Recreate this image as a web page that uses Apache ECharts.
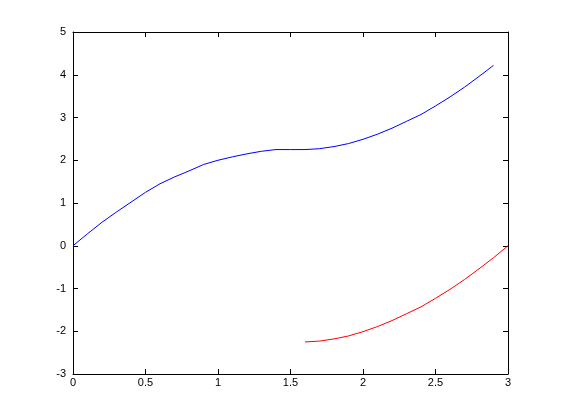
<!DOCTYPE html>
<html>
<head>
<meta charset="utf-8">
<script src="https://cdn.jsdelivr.net/npm/echarts@6/dist/echarts.min.js"></script>
<style>html,body{margin:0;padding:0;background:#fff;}#c{width:561px;height:420px;}</style>
</head>
<body>
<div id="c"></div>
<script>
const blueX = [0,0.1,0.2,0.3,0.4,0.5,0.6,0.7,0.8,0.9,1.0,1.1,1.2,1.3,1.4,1.5,1.6,1.7,1.8,1.9,2.0,2.1,2.2,2.3,2.4,2.5,2.6,2.7,2.8,2.9];
const blueY = [0,0.28,0.55,0.79,1.02,1.25,1.45,1.61,1.75,1.90,2.00,2.08,2.15,2.21,2.25,2.25,2.25,2.27,2.32,2.39,2.49,2.61,2.75,2.91,3.07,3.27,3.48,3.71,3.96,4.22];
const redX = [1.6,1.7,1.8,1.9,2.0,2.1,2.2,2.3,2.4,2.5,2.6,2.7,2.8,2.9,3.0];
const redY = [-2.25,-2.23,-2.18,-2.11,-2.01,-1.89,-1.75,-1.59,-1.43,-1.23,-1.02,-0.79,-0.54,-0.28,0.0];
const xTicks = [0,0.5,1,1.5,2,2.5,3];
const yTicks = [-3,-2,-1,0,1,2,3,4,5];

const font = 'Liberation Sans, Arial, sans-serif';
const chart = echarts.init(document.getElementById('c'), null, {renderer:'canvas'});
const axisCommon = {
  axisLine:{show:true, onZero:false, lineStyle:{color:'#000', width:1}},
  axisTick:{show:true, inside:true, length:5, lineStyle:{color:'#000'}},
  splitLine:{show:false}
};
chart.setOption({
  animation:false,
  backgroundColor:'#fff',
  grid:{left:73, top:32, width:435, height:342, containLabel:false},
  xAxis:[
    Object.assign({type:'value', position:'bottom', min:0, max:3, interval:0.5,
      axisLabel:{color:'#000', fontFamily:font, fontSize:11, margin:3,
        formatter:v=>String(xTicks.find(t=>Math.abs(t-v)<1e-9) ?? v)}}, axisCommon),
    Object.assign({type:'value', position:'top', min:0, max:3, interval:0.5,
      axisLabel:{show:false}}, axisCommon)
  ],
  yAxis:[
    Object.assign({type:'value', position:'left', min:-3, max:5, interval:1,
      axisLabel:{color:'#000', fontFamily:font, fontSize:11, margin:7,
        formatter:v=>String(yTicks.find(t=>Math.abs(t-v)<1e-9) ?? v)}}, axisCommon),
    Object.assign({type:'value', position:'right', min:-3, max:5, interval:1,
      axisLabel:{show:false}}, axisCommon)
  ],
  series:[
    {type:'line', data:blueX.map((x,i)=>[x,blueY[i]]), showSymbol:false, symbol:'none',
     lineStyle:{color:'#0000ff', width:1}, xAxisIndex:0, yAxisIndex:0},
    {type:'line', data:redX.map((x,i)=>[x,redY[i]]), showSymbol:false, symbol:'none',
     lineStyle:{color:'#ff0000', width:1}, xAxisIndex:0, yAxisIndex:0}
  ]
});
</script>
</body>
</html>
